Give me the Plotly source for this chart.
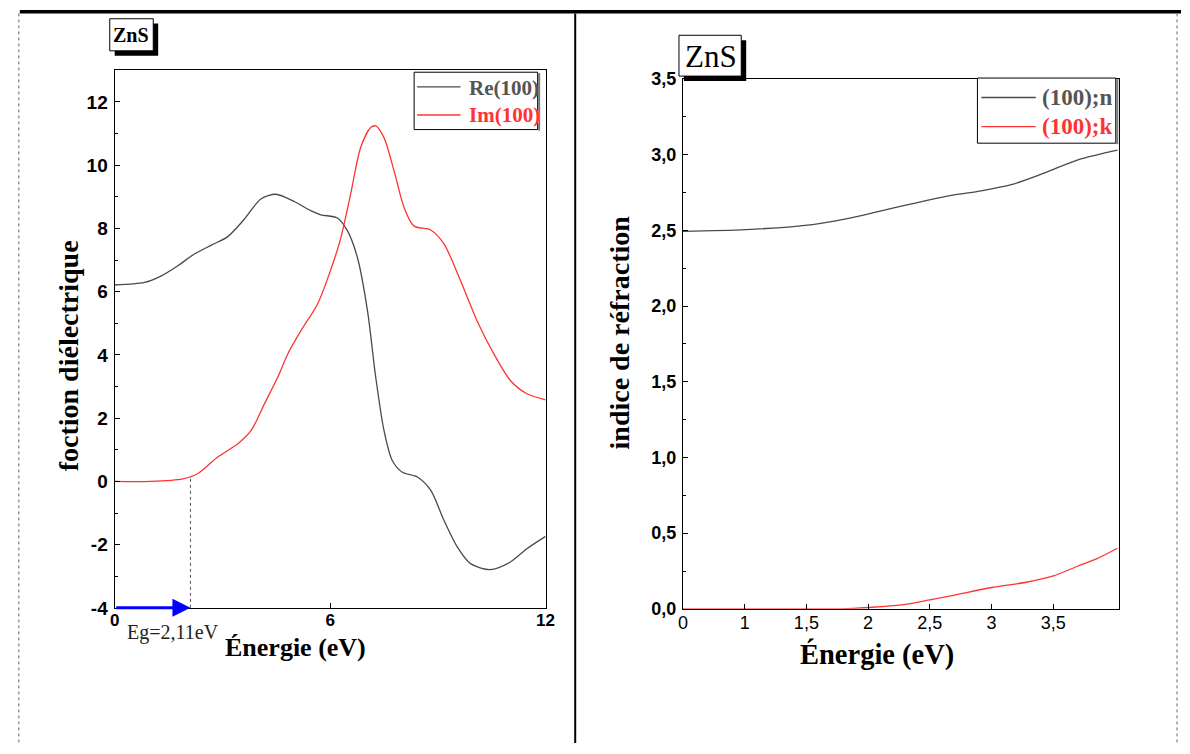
import numpy as np
import plotly.graph_objects as go

W, H = 1190, 754

# Dielectric function of ZnS along (100): real and imaginary parts vs energy (eV)
energy_re = [0.0, 0.83, 1.30, 1.76, 2.22, 2.69, 3.15, 3.61, 4.07, 4.49, 5.0, 5.46,
             5.74, 6.2, 6.48, 6.76, 7.04, 7.27, 7.5, 7.73, 8.01, 8.43, 8.8, 9.17,
             9.54, 9.91, 10.46, 11.02, 11.48, 12.0]
eps_re = [6.21, 6.29, 6.5, 6.82, 7.19, 7.47, 7.74, 8.29, 8.93, 9.08, 8.85, 8.56,
          8.43, 8.33, 7.93, 7.08, 5.40, 3.29, 1.61, 0.66, 0.29, 0.14, -0.28, -1.23,
          -2.07, -2.60, -2.79, -2.55, -2.13, -1.74]

energy_im = [0.0, 1.0, 1.90, 2.31, 2.87, 3.43, 3.80, 4.17, 4.54, 4.82, 5.19, 5.65,
             6.02, 6.3, 6.57, 6.85, 7.13, 7.27, 7.5, 7.78, 8.06, 8.33, 8.8, 9.17,
             9.63, 10.09, 10.56, 11.02, 11.48, 12.0]
eps_im = [0.0, 0.0, 0.08, 0.24, 0.77, 1.19, 1.61, 2.45, 3.29, 4.03, 4.77, 5.61,
          6.7, 7.71, 9.08, 10.56, 11.19, 11.24, 10.87, 9.82, 8.66, 8.08, 7.95, 7.51,
          6.35, 5.08, 4.03, 3.19, 2.77, 2.58]

Eg = 2.11  # band gap (eV)

# Refractive index n and extinction coefficient k along (100)
energy_n = [0.5, 1.01, 1.55, 1.82, 2.09, 2.36, 2.63, 2.89, 3.16, 3.43, 3.70, 4.02]
n_100 = [2.494, 2.505, 2.538, 2.576, 2.626, 2.677, 2.725, 2.758, 2.802, 2.88, 2.966, 3.03]

energy_k = [0.5, 1.0, 1.5, 1.79, 2.0, 2.27, 2.5, 2.70, 3.0, 3.27, 3.5, 3.70, 3.85, 4.02]
k_100 = [0.0, 0.0, 0.0, 0.0, 0.009, 0.026, 0.059, 0.091, 0.141, 0.174, 0.217, 0.283, 0.33, 0.40]

# Tick labels
left_x_ticks = [0, 6, 12]
left_y_ticks = [-4, -2, 0, 2, 4, 6, 8, 10, 12]
right_x_ticks = [0.5, 1, 1.5, 2, 2.5, 3, 3.5]
right_x_labels = ["0", "1", "1,5", "2", "2,5", "3", "3,5"]
right_y_ticks = [0, 0.5, 1, 1.5, 2, 2.5, 3, 3.5]
right_y_labels = ["0,0", "0,5", "1,0", "1,5", "2,0", "2,5", "3,0", "3,5"]

SERIF = "Liberation Serif, Times New Roman, serif"
SANS = "Liberation Sans, Arial, sans-serif"
GRAY = "#4a4a4a"
RED = "#ff3333"


def px(x):
    return x / W


def py(y):
    return 1 - y / H


fig = go.Figure()

fig.add_trace(go.Scatter(x=energy_re, y=eps_re, mode="lines", name="Re(100)",
                         line=dict(color=GRAY, width=1.3, shape="spline", smoothing=0.8),
                         xaxis="x", yaxis="y"))
fig.add_trace(go.Scatter(x=energy_im, y=eps_im, mode="lines", name="Im(100)",
                         line=dict(color=RED, width=1.3, shape="spline", smoothing=0.8),
                         xaxis="x", yaxis="y"))
# gap marker: dotted drop from the absorption edge to the energy axis
im_at_gap = float(np.interp(Eg, energy_im, eps_im))
fig.add_trace(go.Scatter(x=[Eg, Eg], y=[-4, im_at_gap], mode="lines",
                         line=dict(color="#555555", width=1, dash="dot"),
                         xaxis="x", yaxis="y", showlegend=False))

fig.add_trace(go.Scatter(x=energy_n, y=n_100, mode="lines", name="(100);n",
                         line=dict(color=GRAY, width=1.3, shape="spline", smoothing=0.8),
                         xaxis="x2", yaxis="y2"))
fig.add_trace(go.Scatter(x=energy_k, y=k_100, mode="lines", name="(100);k",
                         line=dict(color=RED, width=1.3, shape="spline", smoothing=0.8),
                         xaxis="x2", yaxis="y2"))

axis_common = dict(showgrid=False, zeroline=False, showline=True, linecolor="black",
                   linewidth=1.3, mirror=True, ticks="inside", ticklen=5,
                   tickcolor="black", tickwidth=1)

fig.update_layout(
    width=W, height=H,
    margin=dict(l=0, r=0, t=0, b=0),
    paper_bgcolor="white", plot_bgcolor="white",
    showlegend=False,
    xaxis=dict(axis_common, domain=[px(111), px(547)], range=[0, 12],
               tickmode="array", tickvals=left_x_ticks,
               tickfont=dict(family=SANS, size=17, color="black", weight="bold"),
               ticklabelstandoff=-3, anchor="y"),
    yaxis=dict(axis_common, domain=[py(615), py(62)], range=[-4, 13],
               tickmode="array", tickvals=left_y_ticks,
               ticktext=[str(v) for v in left_y_ticks],
               minor=dict(tickvals=[-3, -1, 1, 3, 5, 7, 9, 11], ticks="inside",
                          ticklen=3, tickcolor="black"),
               tickfont=dict(family=SANS, size=19, color="black", weight="bold"),
               ticklabelstandoff=2, anchor="x"),
    xaxis2=dict(axis_common, domain=[px(686), px(1127)], range=[0.5, 4.03],
                tickmode="array", tickvals=right_x_ticks, ticktext=right_x_labels,
                tickfont=dict(family=SANS, size=18, color="black"),
                ticklabelstandoff=-3, anchor="y2"),
    yaxis2=dict(axis_common, domain=[py(616), py(71)], range=[0, 3.5],
                tickmode="array", tickvals=right_y_ticks, ticktext=right_y_labels,
                minor=dict(tickvals=[0.25, 0.75, 1.25, 1.75, 2.25, 2.75, 3.25],
                           ticks="inside", ticklen=3, tickcolor="black"),
                tickfont=dict(family=SANS, size=18, color="black", weight="bold"),
                ticklabelstandoff=2, anchor="x2"),
)

shapes = []
# page table borders
shapes.append(dict(type="rect", xref="paper", yref="paper", x0=px(15), x1=px(1190),
                   y0=py(3.5), y1=py(0), fillcolor="black", line=dict(width=0)))
for xv in (14, 1186):
    shapes.append(dict(type="line", xref="paper", yref="paper", x0=px(xv), x1=px(xv),
                       y0=py(3.5), y1=py(754), line=dict(color="#666666", width=1, dash="dot")))
shapes.append(dict(type="line", xref="paper", yref="paper", x0=px(577), x1=px(577),
                   y0=py(3.5), y1=py(754), line=dict(color="black", width=2)))


def framed_box(x0, y0, x1, y1, off):
    shapes.append(dict(type="rect", xref="paper", yref="paper", layer="above",
                       x0=px(x0 + off), x1=px(x1 + off), y0=py(y1 + off), y1=py(y0 + off),
                       fillcolor="black", line=dict(width=0)))
    shapes.append(dict(type="rect", xref="paper", yref="paper", layer="above",
                       x0=px(x0), x1=px(x1), y0=py(y1), y1=py(y0),
                       fillcolor="white", line=dict(color="black", width=1)))


framed_box(106, 9, 150, 42, 5)
framed_box(682, 26, 745, 68, 5)

# legend frames and sample lines
for (x0, y0, x1, y1) in [(414, 64, 539, 123), (984, 70, 1124, 137)]:
    shapes.append(dict(type="rect", xref="paper", yref="paper", layer="above",
                       x0=px(x0), x1=px(x1), y0=py(y1), y1=py(y0),
                       fillcolor="white", line=dict(color="black", width=1)))
    shapes.append(dict(type="line", xref="paper", yref="paper", layer="above",
                       x0=px(x1 + 1.5), x1=px(x1 + 1.5), y0=py(y1 + 1), y1=py(y0 + 1),
                       line=dict(color="#777777", width=2)))
legend_rows = [(417, 461, 79, GRAY), (417, 461, 108, RED),
               (988, 1043, 90, GRAY), (988, 1043, 120, RED)]
for (x0, x1, yv, c) in legend_rows:
    shapes.append(dict(type="line", xref="paper", yref="paper", layer="above",
                       x0=px(x0), x1=px(x1), y0=py(yv), y1=py(yv),
                       line=dict(color=c, width=1.3)))

fig.update_layout(shapes=shapes)

ann = []


def text(x, y, s, size, family=SERIF, bold=True, color="black", angle=0, xanchor="center"):
    ann.append(dict(xref="paper", yref="paper", x=px(x), y=py(y), text=s, showarrow=False,
                    xanchor=xanchor, yanchor="middle", textangle=angle,
                    font=dict(family=family, size=size, color=color,
                              weight="bold" if bold else "normal")))


text(128, 26, "ZnS", 20)
text(714, 48, "ZnS", 31, bold=False)
text(64, 356, "foction diélectrique", 28, angle=-90)
text(294, 656, "Énergie (eV)", 26)
text(622, 332, "indice de réfraction", 28, angle=-90)
text(882, 663, "Énergie (eV)", 28.5)
text(170, 640, "Eg=2,11eV", 20, bold=False, color="#222222")
text(467, 80, "Re(100)", 21, color="#555555", xanchor="left")
text(467, 108, "Im(100)", 21, color=RED, xanchor="left")
text(1047, 90, "(100);n", 23, color="#555555", xanchor="left")
text(1047, 120, "(100);k", 23, color=RED, xanchor="left")

# blue arrow marking the gap along the energy axis
ann.append(dict(xref="x", yref="y", axref="x", ayref="y", x=Eg, y=-4, ax=0, ay=-4,
                text="", showarrow=True, arrowhead=2, arrowsize=1.2, arrowwidth=3,
                arrowcolor="#0000ff", standoff=0))

fig.update_layout(annotations=ann)

fig.write_html("out.html")
